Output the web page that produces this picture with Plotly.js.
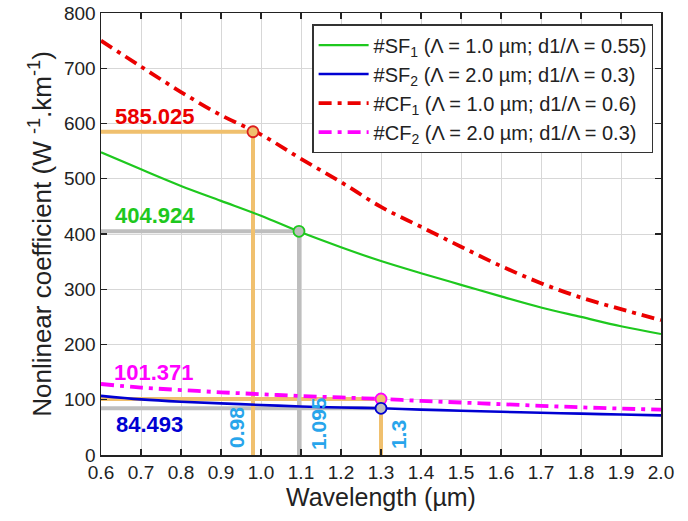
<!DOCTYPE html>
<html>
<head>
<meta charset="utf-8">
<script src="https://cdn.plot.ly/plotly-3.0.1.min.js"></script>
<style>
  html, body { margin: 0; padding: 0; background: #fff; }
  #chart { width: 688px; height: 521px; }
</style>
</head>
<body>
<div id="chart"></div>
<script>
// Wavelength grid (µm)
const wavelength = [0.6, 0.7, 0.8, 0.9, 1.0, 1.1, 1.2, 1.3, 1.4, 1.5, 1.6, 1.7, 1.8, 1.9, 2.0];

// Nonlinear coefficient (W^-1.km^-1) for each fiber design
const sf1 = [548, 517, 487, 460, 433, 403, 376, 351, 329, 308, 287, 267, 250, 233, 219];
const sf2 = [107, 100.7, 96.5, 93.5, 90.5, 87.8, 86, 84.493, 82.2, 80.2, 78.2, 76.4, 74.8, 73.3, 71.8];
const cf1 = [750, 703, 657, 615, 580, 536, 494, 449, 413, 377, 342, 311, 285, 264, 244];
const cf2 = [128.5, 122, 117.6, 113.5, 110, 106.8, 104.2, 101.371, 98, 95, 92, 89, 86.3, 84, 82];

// Highlighted operating points
const markSF1 = { x: 1.095, y: 404.924 };
const markCF1 = { x: 0.98, y: 585.025 };
const markSF2 = { x: 1.3, y: 84.493 };
const markCF2 = { x: 1.3, y: 101.371 };

const xStart = 0.6;
const orange = 'rgb(240,192,110)';
const grey = 'rgb(190,190,190)';

// Guide lines from each highlighted point down to the x axis and across to the y axis
function guide(p, color) {
  return {
    x: [xStart, p.x, p.x], y: [p.y, p.y, 0],
    mode: 'lines', line: { color: color, width: 4 },
    showlegend: false, hoverinfo: 'skip'
  };
}

const traces = [
  guide(markSF2, grey),
  guide(markCF2, orange),
  guide(markSF1, grey),
  guide(markCF1, orange),
  {
    x: wavelength, y: sf1, mode: 'lines', name: '#SF<sub>1</sub> (Λ = 1.0 µm; d1/Λ = 0.55)',
    line: { color: 'rgb(30,200,30)', width: 2.2, shape: 'spline' }
  },
  {
    x: wavelength, y: sf2, mode: 'lines', name: '#SF<sub>2</sub> (Λ = 2.0 µm; d1/Λ = 0.3)',
    line: { color: 'rgb(0,0,210)', width: 2.6, shape: 'spline' }
  },
  {
    x: wavelength, y: cf1, mode: 'lines', name: '#CF<sub>1</sub> (Λ = 1.0 µm; d1/Λ = 0.6)',
    line: { color: 'rgb(235,0,0)', width: 3.8, dash: '13px,6px,4px,6px', shape: 'spline' }
  },
  {
    x: wavelength, y: cf2, mode: 'lines', name: '#CF<sub>2</sub> (Λ = 2.0 µm; d1/Λ = 0.3)',
    line: { color: 'rgb(255,0,255)', width: 3.8, dash: '13px,6px,4px,6px', shape: 'spline' }
  },
  {
    x: [markCF1.x, markSF1.x, markCF2.x, markSF2.x],
    y: [markCF1.y, markSF1.y, markCF2.y, markSF2.y],
    mode: 'markers', showlegend: false, hoverinfo: 'skip',
    marker: {
      size: 11,
      color: [orange, grey, orange, grey],
      line: { width: 1.8, color: ['rgb(220,30,30)', 'rgb(30,200,30)', 'rgb(255,0,255)', 'rgb(0,0,210)'] }
    }
  }
];

const baseFamily = 'Liberation Sans, Arial, sans-serif';
const valueFont = { family: baseFamily, size: 22, weight: 'bold' };
const tagFont = { family: baseFamily, size: 21, weight: 'bold', color: 'rgb(40,165,235)' };

const annotations = [
  { x: 0.736, y: 612, text: markCF1.y.toFixed(3), font: Object.assign({}, valueFont, { color: 'rgb(235,0,0)' }) },
  { x: 0.736, y: 433, text: markSF1.y.toFixed(3), font: Object.assign({}, valueFont, { color: 'rgb(30,200,30)' }) },
  { x: 0.733, y: 150, text: markCF2.y.toFixed(3), font: Object.assign({}, valueFont, { color: 'rgb(255,0,255)' }) },
  { x: 0.722, y: 56, text: markSF2.y.toFixed(3), font: Object.assign({}, valueFont, { color: 'rgb(0,0,210)' }) },
  { x: 0.94, y: 49, text: String(markCF1.x), textangle: -90, font: tagFont },
  { x: 1.1425, y: 56, text: String(markSF1.x), textangle: -90, font: tagFont },
  { x: 1.3425, y: 36, text: String(markCF2.x), textangle: -90, font: tagFont }
].map(a => Object.assign({ xref: 'x', yref: 'y', showarrow: false }, a));

const axisCommon = {
  showline: true, linecolor: '#222', linewidth: 1.5, mirror: 'ticks',
  ticks: 'inside', ticklen: 6, tickwidth: 1.3, tickcolor: '#222',
  showgrid: true, gridcolor: 'rgb(215,215,215)', gridwidth: 1,
  zeroline: false,
  tickfont: { family: baseFamily, size: 19, color: '#222' }
};

const layout = {
  width: 688, height: 521,
  margin: { l: 101, r: 27, t: 13, b: 66 },
  paper_bgcolor: '#fff', plot_bgcolor: '#fff',
  showlegend: true,
  legend: {
    x: 0.377, y: 0.975, xanchor: 'left', yanchor: 'top',
    bgcolor: '#fff', bordercolor: '#333', borderwidth: 1.5,
    font: { family: baseFamily, size: 20, color: '#222' },
    tracegroupgap: 0, itemwidth: 50
  },
  xaxis: Object.assign({}, axisCommon, {
    range: [0.6, 2.0], dtick: 0.1, tick0: 0.6, tickformat: '.1f',
    title: { text: 'Wavelength (µm)', font: { family: baseFamily, size: 25, color: '#222' }, standoff: 4 }
  }),
  yaxis: Object.assign({}, axisCommon, {
    range: [0, 800], dtick: 100, tick0: 0,
    title: { text: 'Nonlinear coefficient (W <sup>-1</sup>.km<sup>-1</sup>)', font: { family: baseFamily, size: 26, color: '#222' }, standoff: 5 }
  }),
  annotations: annotations
};

Plotly.newPlot('chart', traces, layout, { displayModeBar: false, staticPlot: true });
</script>
</body>
</html>
